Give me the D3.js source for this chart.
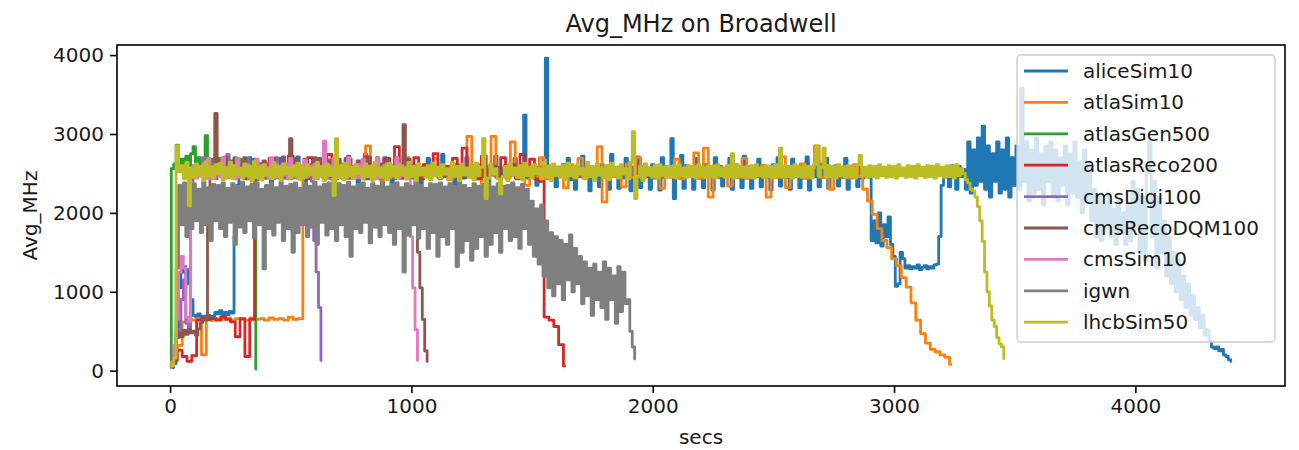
<!DOCTYPE html>
<html><head><meta charset="utf-8">
<script src="https://cdn.jsdelivr.net/npm/d3@7"></script>
<style>
body{margin:0;background:#fff;}
svg text{font-family:"DejaVu Sans",sans-serif;fill:#1a1a1a;}
</style></head><body>
<svg id="chart" width="1299" height="450"></svg>
<script>
// ---------------- DATA ----------------
const chartTitle = "Avg_MHz on Broadwell";
const xLabel = "secs";
const yLabel = "Avg_MHz";
const seriesNames = ["aliceSim10","atlaSim10","atlasGen500","atlasReco200","cmsDigi100","cmsRecoDQM100","cmsSim10","igwn","lhcbSim50"];
// sampling interval (secs) of each series, in the same order
const sampleSecs = [10,20,10,20,10,10,10,10,10];
const xTicks = [0,1000,2000,3000,4000];
const yTicks = [0,1000,2000,3000,4000];

const aliceSim10 = [
 60,40,90,420,1050,1250,1320,1100,1280,900,
 700,680,720,650,690,660,700,640,690,740,
 720,760,700,740,710,750,730,1700,2350,2560,
 2460,2590,2440,2700,2480,2570,2420,2610,2470,2560,
 2450,2620,2330,2580,2490,2690,2440,2570,2460,2600,
 2430,2590,2480,2710,2450,2560,2310,2600,2470,2580,
 2440,2620,2460,2570,2720,2450,2590,2430,2350,2610,
 2480,2560,2450,2690,2440,2580,2470,2600,2320,2570,
 2460,2740,2430,2590,2480,2560,2450,2610,2440,2700,
 2470,2580,2340,2600,2450,2570,2480,2720,2430,2590,
 2460,2560,2450,2610,2300,2580,2470,2690,2440,2600,
 2480,2570,2430,2740,2460,2590,2450,2560,2340,2610,
 2470,2580,2440,2700,2480,2560,2450,2600,2430,2590,
 2460,2570,2310,2610,2480,2720,2440,2580,2470,2600,
 2450,2560,2480,2690,2430,2590,2460,3240,2440,2570,
 2470,2610,2350,2580,2450,2700,3960,2440,2590,2460,
 2330,2580,2470,2610,2450,2690,2420,2570,2300,2600,
 2460,2720,2440,2580,2280,2590,2470,2560,2330,2610,
 2450,2580,2300,2740,2460,2570,2310,2600,2440,2690,
 2470,2280,2580,2450,2710,2320,2590,2460,2560,2300,
 2610,2440,2580,2290,2700,2450,2590,2470,2940,2180,
 2560,2450,2730,2310,2600,2470,2580,2300,2690,2440,
 2570,2320,2610,2460,2580,2290,2700,2450,2590,2340,
 2560,2470,2690,2300,2600,2450,2580,2320,2720,2440,
 2590,2310,2570,2460,2680,2330,2600,2450,2580,2290,
 2610,2470,2700,2340,2570,2450,2590,2300,2680,2460,
 2580,2320,2600,2440,2710,2290,2570,2460,2590,2330,
 2620,2450,2690,2310,2580,2470,2600,2340,2570,2450,
 2690,2300,2590,2460,2580,2330,2610,2440,2570,2480,
 2450,1650,1900,1620,2000,1580,1850,1700,1950,1600,
 1450,1070,1100,1500,1420,1300,1330,1290,1320,1300,
 1340,1280,1310,1330,1290,1320,1300,1340,1350,1700,
 2350,2500,2580,2330,2600,2450,2300,2590,2460,2550,
 2300,2900,2250,2800,2350,2950,2400,3100,2300,2850,
 2200,2750,2400,2900,2250,2800,2300,2950,2200,2700,
 2350,2850,2300,3580,2400,2900,2150,2800,2250,2950,
 2300,2750,2100,2850,2400,2900,2200,2800,2150,2700,
 2350,2850,2100,2750,2250,2900,2200,2650,2000,2800,
 2150,2600,1900,2300,1700,2200,1650,2100,1800,2250,
 1700,2050,1600,2150,1750,2000,1600,2100,1650,2400,
 1800,2300,1500,2200,1400,2500,2900,1700,2400,1300,
 2200,1500,1900,1200,1700,1100,1500,1000,1400,900,
 1200,800,1100,700,950,650,800,550,700,450,
 520,380,300,280,300,250,270,200,180,140,
 120
];

const atlaSim10 = [
 80,250,320,620,650,640,660,200,650,640,
 660,650,670,640,660,650,640,670,650,660,
 640,670,650,660,640,680,650,660,2500,2560,
 2450,2600,2470,2570,2430,2620,2460,2580,2440,2610,
 2480,2850,2450,2590,2420,2630,2470,2560,2440,2700,
 2460,2580,2430,2610,2470,2690,2450,2570,2420,2600,
 2480,2560,2970,2450,2610,2330,2590,2970,2460,2580,
 2440,2900,2470,2620,2350,2570,2450,2700,2430,2600,
 2470,2580,2320,2610,2450,2690,2440,2570,2480,2840,
 2140,2600,2460,2580,2330,2620,2450,2700,2440,2570,
 2470,2600,2310,2590,2450,2680,2430,2580,2460,2760,
 2440,2820,2200,2600,2470,2570,2340,2610,2450,2690,
 2440,2580,2470,2600,2200,2570,2450,2710,2320,2590,
 2460,2620,2440,2570,2850,2450,2600,2300,2580,2470,
 2590,2440,2610,2460,2300,2150,1980,1800,1650,1560,
 1420,1330,1180,1060,860,640,470,350,270,240,
 200,170,80
];

const atlasGen500 = [
 60,2560,2620,2860,2600,2680,2560,2720,2600,2750,
 2840,2580,2700,2600,2660,2980,2620,2680,2580,2700,
 2620,2690,2570,2710,2600,2660,2580,2700,2610,2680,
 2590,2650,2570,2620,2560,2500,20
];

const atlasReco200 = [
 80,130,260,180,120,190,640,670,650,660,
 640,680,650,620,430,660,180,650,2480,2620,
 2450,2690,2470,2600,2440,2720,2460,2580,2430,2700,
 2480,2590,2450,2740,2470,2610,2440,2680,2460,2590,
 2430,2710,2480,2600,2450,2690,2470,2840,2440,2620,
 2460,2700,2430,2610,2480,2750,2450,2590,2470,2690,
 2440,2820,2460,2600,2430,2720,2480,2590,2450,2700,
 2470,2610,2440,2740,2460,2680,2430,2400,680,640,
 560,330,60
];

const cmsDigi100 = [
 50,90,280,520,430,900,1150,600,480,2400,
 2600,2450,2580,2470,2700,2440,2590,2460,2620,2430,
 2570,2480,2610,2450,2740,2470,2590,2440,2600,2460,
 2580,2430,2690,2470,2560,2450,2610,2480,2590,2440,
 2620,2460,2570,2430,2700,2470,2600,2450,2580,2480,
 2610,2440,2680,2460,2590,2430,2570,2470,2600,2400,
 1650,1250,800,130
];

const cmsRecoDQM100 = [
 40,80,200,420,480,430,510,460,520,480,
 500,450,530,610,660,640,2300,2550,2600,3260,
 2600,2660,2470,2700,2450,2620,2480,2690,2440,2610,
 2460,2700,2430,2590,2470,2680,2450,2620,2480,2660,
 2440,2600,2470,2690,2450,2580,2430,2710,2460,2600,
 2940,2470,2690,2440,2590,2460,2680,2430,2610,2470,
 2700,2450,2690,2480,2600,2440,2670,2460,2590,2430,
 2680,2470,2610,2450,2720,2440,2590,2480,2660,2460,
 2600,2430,2690,2470,2580,2450,2700,2440,2620,2480,
 2670,2460,2590,2430,2700,2470,2610,3120,2450,2680,
 2440,2600,2300,1500,1050,650,250,120
];

const cmsSim10 = [
 40,110,320,650,1250,1450,1300,680,620,2450,
 2600,2440,2580,2470,2620,2450,2690,2430,2590,2480,
 2610,2460,2700,2440,2580,2470,2600,2430,2690,2450,
 2570,2480,2610,2440,2590,2460,2680,2430,2600,2470,
 2580,2450,2700,2440,2610,2460,2590,2480,2620,2430,
 2690,2470,2580,2450,2600,2440,2670,2460,2590,2480,
 2610,2430,2580,2460,2910,2450,2600,2470,2690,2440,
 2590,2460,2620,2430,2700,2470,2580,2450,2610,2440,
 2680,2460,2590,2480,2600,2430,2690,2450,2570,2470,
 2620,2440,2590,2460,2700,2450,2600,2470,2580,2450,
 1700,1050,520,130
];

const igwn = [
 50,80,150,1300,2350,1850,2380,1700,2340,1800,
 2370,1900,2300,1750,2390,1850,2320,1650,2360,1900,
 2350,1800,2380,1700,2310,1880,2370,1600,2340,1820,
 2390,1750,2330,1900,2360,1680,2380,1850,2300,1290,
 2350,1800,2370,1720,2320,1880,2390,1650,2340,1800,
 2360,1500,2380,1750,2310,1850,2370,1700,2340,1820,
 2390,1600,2330,1880,2360,1720,2380,1800,2320,1650,
 2370,1850,2350,1700,2390,1450,2330,1800,2360,1750,
 2380,1880,2310,1620,2370,1820,2340,1700,2390,1850,
 2330,1750,2360,1600,2380,1800,2320,1250,2370,1720,
 2340,1850,2390,1680,2350,1800,2310,1550,2370,1750,
 2360,1450,2380,1700,2330,1600,2370,1800,2340,1320,
 2390,1500,2350,1650,2310,1400,2370,1550,2340,1700,
 2360,1450,2380,1600,2330,1750,2370,1500,2340,1800,
 2350,1650,2380,1700,2320,1550,2360,1800,2300,1600,
 2150,1450,2050,1350,2100,1200,1900,1050,1750,950,
 1700,1100,1650,900,1600,1150,1720,1000,1550,1100,
 1450,850,1380,950,1300,700,1350,900,1250,800,
 1380,650,1300,900,1200,600,1320,750,1250,850,
 900,500,300,150
];

const lhcbSim50 = [
 80,60,160,2850,2520,2600,2430,2640,2090,2560,
 2450,2620,2480,2590,2410,2650,2470,2580,2440,2610,
 2500,2630,2420,2570,2460,2640,2430,2600,2490,2560,
 2440,2620,2470,2590,2400,2650,2450,2580,2420,2610,
 2480,2560,2430,2640,2460,2590,2410,2620,2500,2570,
 2440,2600,2470,2630,2420,2580,2450,2610,2490,2560,
 2430,2640,2460,2590,2410,2620,2480,2570,2220,2940,
 2450,2600,2420,2630,2470,2580,2440,2610,2500,2560,
 2430,2620,2460,2590,2410,2640,2480,2570,2450,2600,
 2420,2630,2470,2580,2440,2610,2490,2560,2430,2640,
 2460,2590,2410,2620,2480,2570,2450,2600,2420,2630,
 2470,2580,2440,2610,2490,2560,2430,2640,2460,2590,
 2410,2620,2480,2570,2450,2600,2420,2630,2470,2580,
 2940,2180,2440,2610,2490,2560,2430,2240,2460,2590,
 2410,2620,2480,2570,2450,2600,2420,2630,2470,2580,
 2440,2610,2490,2560,2430,2640,2460,2590,2410,2620,
 2480,2570,2450,2600,2420,2630,2470,2580,2440,2610,
 2490,2560,2430,2640,2460,2590,2410,2620,2480,2570,
 2450,2600,2420,2630,2470,2580,2440,2610,2490,2560,
 2430,2640,3030,2180,2460,2590,2410,2620,2480,2570,
 2450,2600,2440,2610,2470,2580,2450,2590,2460,2600,
 2440,2610,2470,2570,2450,2600,2460,2590,2440,2610,
 2470,2580,2450,2600,2460,2590,2440,2610,2470,2570,
 2450,2600,2460,2750,2440,2610,2470,2580,2450,2590,
 2460,2600,2440,2610,2470,2570,2450,2600,2460,2590,
 2440,2610,2470,2820,2450,2600,2460,2590,2440,2610,
 2470,2580,2450,2600,2460,2590,2440,2610,2850,2470,
 2580,2820,2450,2600,2460,2590,2440,2610,2470,2570,
 2450,2600,2460,2590,2440,2610,2730,2470,2580,2450,
 2600,2460,2590,2440,2610,2470,2580,2450,2600,2460,
 2590,2440,2610,2470,2570,2450,2600,2460,2590,2440,
 2610,2470,2580,2450,2600,2460,2590,2440,2610,2470,
 2580,2450,2600,2460,2590,2440,2610,2470,2560,
 2500,2420,2380,2300,2280,2200,2080,1900,1640,1250,1000,820,640,560,420,340,300,150
];

// ---------------- STYLE / LAYOUT ----------------
const seriesValues = [aliceSim10, atlaSim10, atlasGen500, atlasReco200, cmsDigi100, cmsRecoDQM100, cmsSim10, igwn, lhcbSim50];
const colors = ["#1f77b4","#ff7f0e","#2ca02c","#d62728","#9467bd","#8c564b","#e377c2","#7f7f7f","#bcbd22"];

const plot = {left:117, right:1285, top:45, bottom:386};
const svg = d3.select("#chart");

const x = d3.scaleLinear().domain([-220, 4620]).range([plot.left, plot.right]);
const y = d3.scaleLinear().domain([-194, 4128]).range([plot.bottom, plot.top]);

svg.append("defs").append("clipPath").attr("id","clip")
  .append("rect").attr("x",plot.left).attr("y",plot.top)
  .attr("width",plot.right-plot.left).attr("height",plot.bottom-plot.top);

const line = d3.line().x(d => x(d[0])).y(d => y(d[1])).curve(d3.curveStep);
const lines = svg.append("g").attr("clip-path","url(#clip)");
seriesValues.forEach((vals, k) => {
  const pts = vals.map((v, i) => [i * sampleSecs[k], v]);
  lines.append("path").datum(pts)
    .attr("d", line)
    .attr("fill","none")
    .attr("stroke", colors[k])
    .attr("stroke-width", 2.8)
    .attr("stroke-linejoin","round")
    .attr("stroke-linecap","butt");
});

// axes
const fmt = d3.format("d");
const xAxis = svg.append("g").attr("transform",`translate(0,${plot.bottom})`)
  .call(d3.axisBottom(x).tickValues(xTicks).tickFormat(fmt).tickSize(7).tickPadding(6).tickSizeOuter(0));
const yAxis = svg.append("g").attr("transform",`translate(${plot.left},0)`)
  .call(d3.axisLeft(y).tickValues(yTicks).tickFormat(fmt).tickSize(7).tickPadding(6).tickSizeOuter(0));
[xAxis, yAxis].forEach(a => {
  a.select(".domain").remove();
  a.selectAll(".tick line").attr("stroke","#000").attr("stroke-width",1.6);
  a.selectAll(".tick text").attr("font-size",20).attr("font-family","DejaVu Sans, sans-serif").attr("fill","#1a1a1a");
});

// frame
svg.append("rect").attr("x",plot.left).attr("y",plot.top)
  .attr("width",plot.right-plot.left).attr("height",plot.bottom-plot.top)
  .attr("fill","none").attr("stroke","#000").attr("stroke-width",1.6);

// titles
svg.append("text").attr("x",(plot.left+plot.right)/2).attr("y",32)
  .attr("text-anchor","middle").attr("font-size",24).text(chartTitle);
svg.append("text").attr("x",(plot.left+plot.right)/2).attr("y",444)
  .attr("text-anchor","middle").attr("font-size",20).text(xLabel);
svg.append("text").attr("transform",`translate(37,${(plot.top+plot.bottom)/2}) rotate(-90)`)
  .attr("text-anchor","middle").attr("font-size",20).text(yLabel);

// legend
const lg = {left:1017, top:55, width:258, height:287, rowTop:71, rowGap:31.4};
svg.append("rect").attr("x",lg.left).attr("y",lg.top).attr("width",lg.width).attr("height",lg.height)
  .attr("rx",4).attr("ry",4).attr("fill","#fff").attr("fill-opacity",0.8)
  .attr("stroke","#cccccc").attr("stroke-width",1.4);
seriesNames.forEach((name, k) => {
  const cy = lg.rowTop + k * lg.rowGap;
  svg.append("line").attr("x1",lg.left+7).attr("x2",lg.left+51).attr("y1",cy).attr("y2",cy)
    .attr("stroke",colors[k]).attr("stroke-width",2.8);
  svg.append("text").attr("x",lg.left+66).attr("y",cy+7).attr("font-size",20).text(name);
});
</script>
</body></html>
